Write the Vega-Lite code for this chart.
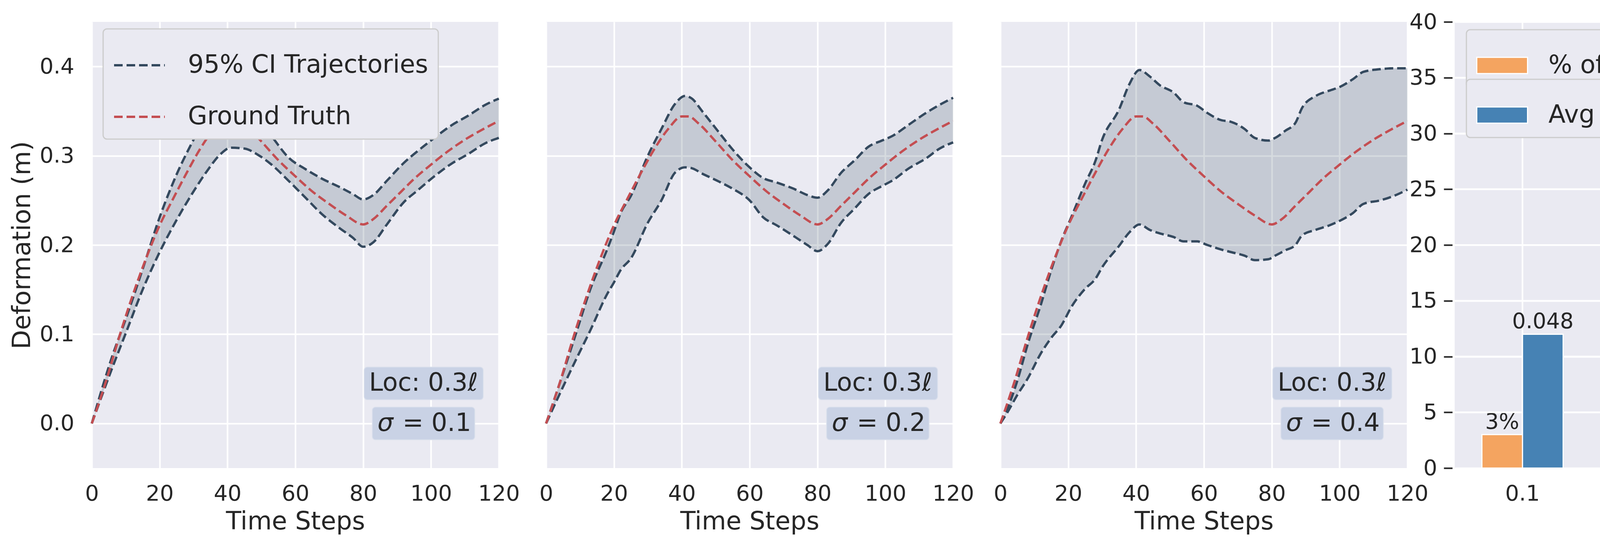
{
  "$schema": "https://vega.github.io/schema/vega-lite/v6.json",
  "description": "CI trajectories for three noise levels and CI summary bars",
  "padding": {"left": 25, "top": 28, "right": 5, "bottom": 5},
  "bounds": "flush",
  "spacing": 121,
  "datasets": {
    "ci": [
      {"noise": 0.1, "t": 0, "lo": 0, "hi": 0},
      {"noise": 0.1, "t": 6, "lo": 0.062, "hi": 0.075},
      {"noise": 0.1, "t": 10, "lo": 0.101, "hi": 0.117},
      {"noise": 0.1, "t": 15, "lo": 0.15, "hi": 0.173},
      {"noise": 0.1, "t": 20, "lo": 0.192, "hi": 0.231},
      {"noise": 0.1, "t": 25, "lo": 0.228, "hi": 0.279},
      {"noise": 0.1, "t": 30, "lo": 0.26, "hi": 0.318},
      {"noise": 0.1, "t": 34, "lo": 0.283, "hi": 0.346},
      {"noise": 0.1, "t": 38, "lo": 0.302, "hi": 0.364},
      {"noise": 0.1, "t": 41, "lo": 0.309, "hi": 0.369},
      {"noise": 0.1, "t": 45, "lo": 0.308, "hi": 0.358},
      {"noise": 0.1, "t": 49, "lo": 0.301, "hi": 0.342},
      {"noise": 0.1, "t": 53, "lo": 0.29, "hi": 0.322},
      {"noise": 0.1, "t": 58, "lo": 0.272, "hi": 0.298},
      {"noise": 0.1, "t": 63, "lo": 0.253, "hi": 0.285},
      {"noise": 0.1, "t": 68, "lo": 0.234, "hi": 0.274},
      {"noise": 0.1, "t": 73, "lo": 0.219, "hi": 0.265},
      {"noise": 0.1, "t": 77, "lo": 0.208, "hi": 0.257},
      {"noise": 0.1, "t": 80, "lo": 0.198, "hi": 0.251},
      {"noise": 0.1, "t": 83, "lo": 0.203, "hi": 0.256},
      {"noise": 0.1, "t": 87, "lo": 0.223, "hi": 0.272},
      {"noise": 0.1, "t": 92, "lo": 0.248, "hi": 0.292},
      {"noise": 0.1, "t": 96, "lo": 0.261, "hi": 0.305},
      {"noise": 0.1, "t": 101, "lo": 0.277, "hi": 0.32},
      {"noise": 0.1, "t": 106, "lo": 0.291, "hi": 0.334},
      {"noise": 0.1, "t": 111, "lo": 0.302, "hi": 0.345},
      {"noise": 0.1, "t": 116, "lo": 0.314, "hi": 0.357},
      {"noise": 0.1, "t": 120, "lo": 0.32, "hi": 0.364},
      {"noise": 0.2, "t": 0, "lo": 0, "hi": 0},
      {"noise": 0.2, "t": 4, "lo": 0.033, "hi": 0.045},
      {"noise": 0.2, "t": 9, "lo": 0.073, "hi": 0.103},
      {"noise": 0.2, "t": 13, "lo": 0.104, "hi": 0.15},
      {"noise": 0.2, "t": 18, "lo": 0.145, "hi": 0.195},
      {"noise": 0.2, "t": 20, "lo": 0.158, "hi": 0.215},
      {"noise": 0.2, "t": 22, "lo": 0.172, "hi": 0.236},
      {"noise": 0.2, "t": 25, "lo": 0.185, "hi": 0.255},
      {"noise": 0.2, "t": 30, "lo": 0.225, "hi": 0.3},
      {"noise": 0.2, "t": 34, "lo": 0.25, "hi": 0.33},
      {"noise": 0.2, "t": 38, "lo": 0.281, "hi": 0.358},
      {"noise": 0.2, "t": 41, "lo": 0.287, "hi": 0.367},
      {"noise": 0.2, "t": 43, "lo": 0.286, "hi": 0.364},
      {"noise": 0.2, "t": 46, "lo": 0.28, "hi": 0.35},
      {"noise": 0.2, "t": 51, "lo": 0.271, "hi": 0.326},
      {"noise": 0.2, "t": 55, "lo": 0.263, "hi": 0.307},
      {"noise": 0.2, "t": 60, "lo": 0.25, "hi": 0.287},
      {"noise": 0.2, "t": 64, "lo": 0.231, "hi": 0.275},
      {"noise": 0.2, "t": 68, "lo": 0.222, "hi": 0.27},
      {"noise": 0.2, "t": 73, "lo": 0.21, "hi": 0.263},
      {"noise": 0.2, "t": 77, "lo": 0.2, "hi": 0.256},
      {"noise": 0.2, "t": 80, "lo": 0.193, "hi": 0.253},
      {"noise": 0.2, "t": 83, "lo": 0.201, "hi": 0.261},
      {"noise": 0.2, "t": 87, "lo": 0.225, "hi": 0.281},
      {"noise": 0.2, "t": 91, "lo": 0.241, "hi": 0.295},
      {"noise": 0.2, "t": 95, "lo": 0.257, "hi": 0.31},
      {"noise": 0.2, "t": 99, "lo": 0.266, "hi": 0.317},
      {"noise": 0.2, "t": 102, "lo": 0.272, "hi": 0.322},
      {"noise": 0.2, "t": 107, "lo": 0.286, "hi": 0.335},
      {"noise": 0.2, "t": 112, "lo": 0.297, "hi": 0.348},
      {"noise": 0.2, "t": 116, "lo": 0.308, "hi": 0.357},
      {"noise": 0.2, "t": 120, "lo": 0.315, "hi": 0.365},
      {"noise": 0.4, "t": 0, "lo": 0, "hi": 0},
      {"noise": 0.4, "t": 2, "lo": 0.012, "hi": 0.016},
      {"noise": 0.4, "t": 5, "lo": 0.032, "hi": 0.048},
      {"noise": 0.4, "t": 8, "lo": 0.05, "hi": 0.088},
      {"noise": 0.4, "t": 12, "lo": 0.079, "hi": 0.134},
      {"noise": 0.4, "t": 15, "lo": 0.096, "hi": 0.172},
      {"noise": 0.4, "t": 18, "lo": 0.11, "hi": 0.205},
      {"noise": 0.4, "t": 21, "lo": 0.131, "hi": 0.232},
      {"noise": 0.4, "t": 25, "lo": 0.151, "hi": 0.269},
      {"noise": 0.4, "t": 28, "lo": 0.162, "hi": 0.294},
      {"noise": 0.4, "t": 30, "lo": 0.175, "hi": 0.318},
      {"noise": 0.4, "t": 35, "lo": 0.199, "hi": 0.352},
      {"noise": 0.4, "t": 38, "lo": 0.214, "hi": 0.38},
      {"noise": 0.4, "t": 41, "lo": 0.223, "hi": 0.396},
      {"noise": 0.4, "t": 44, "lo": 0.217, "hi": 0.389},
      {"noise": 0.4, "t": 47, "lo": 0.213, "hi": 0.379},
      {"noise": 0.4, "t": 51, "lo": 0.209, "hi": 0.371},
      {"noise": 0.4, "t": 54, "lo": 0.204, "hi": 0.36},
      {"noise": 0.4, "t": 58, "lo": 0.204, "hi": 0.356},
      {"noise": 0.4, "t": 61, "lo": 0.2, "hi": 0.348},
      {"noise": 0.4, "t": 65, "lo": 0.195, "hi": 0.34},
      {"noise": 0.4, "t": 68, "lo": 0.192, "hi": 0.338},
      {"noise": 0.4, "t": 72, "lo": 0.188, "hi": 0.33},
      {"noise": 0.4, "t": 75, "lo": 0.183, "hi": 0.32},
      {"noise": 0.4, "t": 79, "lo": 0.184, "hi": 0.317},
      {"noise": 0.4, "t": 81, "lo": 0.188, "hi": 0.32},
      {"noise": 0.4, "t": 84, "lo": 0.194, "hi": 0.328},
      {"noise": 0.4, "t": 87, "lo": 0.2, "hi": 0.337},
      {"noise": 0.4, "t": 89, "lo": 0.211, "hi": 0.354},
      {"noise": 0.4, "t": 93, "lo": 0.217, "hi": 0.367},
      {"noise": 0.4, "t": 97, "lo": 0.222, "hi": 0.373},
      {"noise": 0.4, "t": 100, "lo": 0.227, "hi": 0.377},
      {"noise": 0.4, "t": 104, "lo": 0.236, "hi": 0.386},
      {"noise": 0.4, "t": 107, "lo": 0.246, "hi": 0.394},
      {"noise": 0.4, "t": 112, "lo": 0.25, "hi": 0.397},
      {"noise": 0.4, "t": 116, "lo": 0.255, "hi": 0.398},
      {"noise": 0.4, "t": 120, "lo": 0.262, "hi": 0.398}
    ],
    "gt": [
      {"t": 0, "gt": 0},
      {"t": 4, "gt": 0.045},
      {"t": 8, "gt": 0.096},
      {"t": 12, "gt": 0.143},
      {"t": 16, "gt": 0.185},
      {"t": 20, "gt": 0.222},
      {"t": 24, "gt": 0.252},
      {"t": 28, "gt": 0.281},
      {"t": 32, "gt": 0.308},
      {"t": 36, "gt": 0.33},
      {"t": 40, "gt": 0.344},
      {"t": 42, "gt": 0.344},
      {"t": 45, "gt": 0.336},
      {"t": 50, "gt": 0.316},
      {"t": 55, "gt": 0.295},
      {"t": 60, "gt": 0.277},
      {"t": 65, "gt": 0.26},
      {"t": 70, "gt": 0.246},
      {"t": 75, "gt": 0.233},
      {"t": 80, "gt": 0.223},
      {"t": 83, "gt": 0.229},
      {"t": 87, "gt": 0.244},
      {"t": 91, "gt": 0.259},
      {"t": 95, "gt": 0.274},
      {"t": 100, "gt": 0.29},
      {"t": 105, "gt": 0.305},
      {"t": 110, "gt": 0.318},
      {"t": 115, "gt": 0.329},
      {"t": 120, "gt": 0.339}
    ],
    "bars": [
      {"noise": "0.1", "pct": 3, "width": 0.048},
      {"noise": "0.2", "pct": 4, "width": 0.059},
      {"noise": "0.4", "pct": 23, "width": 0.112}
    ],
    "grid": [
      {"g": 5}, {"g": 10}, {"g": 15}, {"g": 20}, {"g": 25}, {"g": 30}, {"g": 35}
    ]
  },
  "hconcat": [
    {
      "width": 1042,
      "height": 1142,
      "layer": [
        {
          "data": {"name": "ci"},
          "transform": [{"filter": "datum.noise == 0.1"}],
          "mark": {"type": "area", "color": "#34495e", "opacity": 0.2, "interpolate": "monotone"},
          "encoding": {
            "x": {"field": "t", "type": "quantitative", "title": "Time Steps", "scale": {"domain": [0, 120], "nice": false},
                  "axis": {"values": [0, 20, 40, 60, 80, 100, 120]}},
            "y": {"field": "lo", "type": "quantitative", "title": "Deformation (m)", "scale": {"domain": [-0.05, 0.45], "nice": false, "zero": false},
                  "axis": {"values": [0, 0.1, 0.2, 0.3, 0.4], "format": ".1f", "labelPadding": 45, "titlePadding": 11}},
            "y2": {"field": "hi"}
          }
        },
        {
          "data": {"name": "ci"},
          "transform": [{"filter": "datum.noise == 0.1"}],
          "mark": {"type": "line", "strokeDash": [22, 10], "strokeWidth": 6, "interpolate": "monotone"},
          "encoding": {
            "x": {"field": "t", "type": "quantitative", "title": "Time Steps"},
            "y": {"field": "hi", "type": "quantitative", "title": "Deformation (m)"},
            "color": {"datum": "95% CI Trajectories",
                      "scale": {"domain": ["95% CI Trajectories", "Ground Truth"], "range": ["#34495e", "#c44e52"]},
                      "legend": {"orient": "none", "legendX": 29, "legendY": 18, "title": null,
                                 "symbolType": "stroke", "symbolSize": 16900, "symbolStrokeWidth": 6, "symbolDash": [22, 10],
                                 "labelFontSize": 64, "labelOffset": 56, "labelColor": "#262626", "labelLimit": 2000,
                                 "padding": 25, "rowPadding": 32, "fillColor": "#EAEAF2", "strokeColor": "#cccccc", "cornerRadius": 10,
                                 "encode": {"legend": {"update": {"strokeWidth": {"value": 3}}}}}}
          }
        },
        {
          "data": {"name": "ci"},
          "transform": [{"filter": "datum.noise == 0.1"}],
          "mark": {"type": "line", "strokeDash": [22, 10], "strokeWidth": 6, "interpolate": "monotone"},
          "encoding": {
            "x": {"field": "t", "type": "quantitative", "title": "Time Steps"},
            "y": {"field": "lo", "type": "quantitative", "title": "Deformation (m)"},
            "color": {"datum": "95% CI Trajectories"}
          }
        },
        {
          "data": {"name": "gt"},
          "mark": {"type": "line", "strokeDash": [22, 10], "strokeWidth": 6, "interpolate": "monotone"},
          "encoding": {
            "x": {"field": "t", "type": "quantitative", "title": "Time Steps"},
            "y": {"field": "gt", "type": "quantitative", "title": "Deformation (m)"},
            "color": {"datum": "Ground Truth"}
          }
        },
        {
          "data": {"values": [{}]},
          "mark": {"type": "rect", "fill": "#C9D2E5", "stroke": "#D9DFEC", "strokeWidth": 2, "cornerRadius": 8},
          "encoding": {
            "x": {"datum": 80.3, "type": "quantitative", "title": "Time Steps"}, "x2": {"datum": 115.4},
            "y": {"datum": 0.0632, "type": "quantitative", "title": "Deformation (m)"}, "y2": {"datum": 0.0266}
          }
        },
        {
          "data": {"values": [{}]},
          "mark": {"type": "rect", "fill": "#C9D2E5", "stroke": "#D9DFEC", "strokeWidth": 2, "cornerRadius": 8},
          "encoding": {
            "x": {"datum": 82.7, "type": "quantitative", "title": "Time Steps"}, "x2": {"datum": 112.9},
            "y": {"datum": 0.0183, "type": "quantitative", "title": "Deformation (m)"}, "y2": {"datum": -0.0183}
          }
        },
        {
          "data": {"values": [{}]},
          "mark": {"type": "text", "fontSize": 64, "baseline": "middle", "align": "center"},
          "encoding": {
            "x": {"datum": 97.8, "type": "quantitative", "title": "Time Steps"},
            "y": {"datum": 0.0449, "type": "quantitative", "title": "Deformation (m)"},
            "text": {"value": "Loc: 0.3ℓ"}
          }
        },
        {
          "data": {"values": [{}]},
          "mark": {"type": "text", "fontSize": 64, "baseline": "middle", "align": "left", "fontStyle": "italic"},
          "encoding": {
            "x": {"datum": 84.2, "type": "quantitative", "title": "Time Steps"},
            "y": {"datum": 0.0, "type": "quantitative", "title": "Deformation (m)"},
            "text": {"value": "σ"}
          }
        },
        {
          "data": {"values": [{}]},
          "mark": {"type": "text", "fontSize": 64, "baseline": "middle", "align": "left"},
          "encoding": {
            "x": {"datum": 91.6, "type": "quantitative", "title": "Time Steps"},
            "y": {"datum": 0.0, "type": "quantitative", "title": "Deformation (m)"},
            "text": {"value": "= 0.1"}
          }
        }
      ]
    },
    {
      "width": 1042,
      "height": 1142,
      "layer": [
        {
          "data": {"name": "ci"},
          "transform": [{"filter": "datum.noise == 0.2"}],
          "mark": {"type": "area", "color": "#34495e", "opacity": 0.2, "interpolate": "monotone"},
          "encoding": {
            "x": {"field": "t", "type": "quantitative", "title": "Time Steps", "scale": {"domain": [0, 120], "nice": false},
                  "axis": {"values": [0, 20, 40, 60, 80, 100, 120]}},
            "y": {"field": "lo", "type": "quantitative", "title": null, "scale": {"domain": [-0.05, 0.45], "nice": false, "zero": false},
                  "axis": {"values": [0, 0.1, 0.2, 0.3, 0.4], "labels": false}},
            "y2": {"field": "hi"}
          }
        },
        {
          "data": {"name": "ci"},
          "transform": [{"filter": "datum.noise == 0.2"}],
          "mark": {"type": "line", "strokeDash": [22, 10], "strokeWidth": 6, "interpolate": "monotone"},
          "encoding": {
            "x": {"field": "t", "type": "quantitative", "title": "Time Steps"},
            "y": {"field": "hi", "type": "quantitative", "title": null},
            "color": {"datum": "95% CI Trajectories",
                      "scale": {"domain": ["95% CI Trajectories", "Ground Truth"], "range": ["#34495e", "#c44e52"]},
                      "legend": null}
          }
        },
        {
          "data": {"name": "ci"},
          "transform": [{"filter": "datum.noise == 0.2"}],
          "mark": {"type": "line", "strokeDash": [22, 10], "strokeWidth": 6, "interpolate": "monotone"},
          "encoding": {
            "x": {"field": "t", "type": "quantitative", "title": "Time Steps"},
            "y": {"field": "lo", "type": "quantitative", "title": null},
            "color": {"datum": "95% CI Trajectories", "legend": null}
          }
        },
        {
          "data": {"name": "gt"},
          "mark": {"type": "line", "strokeDash": [22, 10], "strokeWidth": 6, "interpolate": "monotone"},
          "encoding": {
            "x": {"field": "t", "type": "quantitative", "title": "Time Steps"},
            "y": {"field": "gt", "type": "quantitative", "title": null},
            "color": {"datum": "Ground Truth", "legend": null}
          }
        },
        {
          "data": {"values": [{}]},
          "mark": {"type": "rect", "fill": "#C9D2E5", "stroke": "#D9DFEC", "strokeWidth": 2, "cornerRadius": 8},
          "encoding": {
            "x": {"datum": 80.3, "type": "quantitative", "title": "Time Steps"}, "x2": {"datum": 115.4},
            "y": {"datum": 0.0632, "type": "quantitative", "title": null}, "y2": {"datum": 0.0266}
          }
        },
        {
          "data": {"values": [{}]},
          "mark": {"type": "rect", "fill": "#C9D2E5", "stroke": "#D9DFEC", "strokeWidth": 2, "cornerRadius": 8},
          "encoding": {
            "x": {"datum": 82.7, "type": "quantitative", "title": "Time Steps"}, "x2": {"datum": 112.9},
            "y": {"datum": 0.0183, "type": "quantitative", "title": null}, "y2": {"datum": -0.0183}
          }
        },
        {
          "data": {"values": [{}]},
          "mark": {"type": "text", "fontSize": 64, "baseline": "middle", "align": "center"},
          "encoding": {
            "x": {"datum": 97.8, "type": "quantitative", "title": "Time Steps"},
            "y": {"datum": 0.0449, "type": "quantitative", "title": null},
            "text": {"value": "Loc: 0.3ℓ"}
          }
        },
        {
          "data": {"values": [{}]},
          "mark": {"type": "text", "fontSize": 64, "baseline": "middle", "align": "left", "fontStyle": "italic"},
          "encoding": {
            "x": {"datum": 84.2, "type": "quantitative", "title": "Time Steps"},
            "y": {"datum": 0.0, "type": "quantitative", "title": null},
            "text": {"value": "σ"}
          }
        },
        {
          "data": {"values": [{}]},
          "mark": {"type": "text", "fontSize": 64, "baseline": "middle", "align": "left"},
          "encoding": {
            "x": {"datum": 91.6, "type": "quantitative", "title": "Time Steps"},
            "y": {"datum": 0.0, "type": "quantitative", "title": null},
            "text": {"value": "= 0.2"}
          }
        }
      ]
    },
    {
      "width": 1042,
      "height": 1142,
      "layer": [
        {
          "data": {"name": "ci"},
          "transform": [{"filter": "datum.noise == 0.4"}],
          "mark": {"type": "area", "color": "#34495e", "opacity": 0.2, "interpolate": "monotone"},
          "encoding": {
            "x": {"field": "t", "type": "quantitative", "title": "Time Steps", "scale": {"domain": [0, 120], "nice": false},
                  "axis": {"values": [0, 20, 40, 60, 80, 100, 120]}},
            "y": {"field": "lo", "type": "quantitative", "title": null, "scale": {"domain": [-0.05, 0.45], "nice": false, "zero": false},
                  "axis": {"values": [0, 0.1, 0.2, 0.3, 0.4], "labels": false}},
            "y2": {"field": "hi"}
          }
        },
        {
          "data": {"name": "ci"},
          "transform": [{"filter": "datum.noise == 0.4"}],
          "mark": {"type": "line", "strokeDash": [22, 10], "strokeWidth": 6, "interpolate": "monotone"},
          "encoding": {
            "x": {"field": "t", "type": "quantitative", "title": "Time Steps"},
            "y": {"field": "hi", "type": "quantitative", "title": null},
            "color": {"datum": "95% CI Trajectories",
                      "scale": {"domain": ["95% CI Trajectories", "Ground Truth"], "range": ["#34495e", "#c44e52"]},
                      "legend": null}
          }
        },
        {
          "data": {"name": "ci"},
          "transform": [{"filter": "datum.noise == 0.4"}],
          "mark": {"type": "line", "strokeDash": [22, 10], "strokeWidth": 6, "interpolate": "monotone"},
          "encoding": {
            "x": {"field": "t", "type": "quantitative", "title": "Time Steps"},
            "y": {"field": "lo", "type": "quantitative", "title": null},
            "color": {"datum": "95% CI Trajectories", "legend": null}
          }
        },
        {
          "data": {"name": "gt"},
          "mark": {"type": "line", "strokeDash": [22, 10], "strokeWidth": 6, "interpolate": "monotone"},
          "encoding": {
            "x": {"field": "t", "type": "quantitative", "title": "Time Steps"},
            "y": {"field": "gt", "type": "quantitative", "title": null},
            "color": {"datum": "Ground Truth", "legend": null}
          }
        },
        {
          "data": {"values": [{}]},
          "mark": {"type": "rect", "fill": "#C9D2E5", "stroke": "#D9DFEC", "strokeWidth": 2, "cornerRadius": 8},
          "encoding": {
            "x": {"datum": 80.3, "type": "quantitative", "title": "Time Steps"}, "x2": {"datum": 115.4},
            "y": {"datum": 0.0632, "type": "quantitative", "title": null}, "y2": {"datum": 0.0266}
          }
        },
        {
          "data": {"values": [{}]},
          "mark": {"type": "rect", "fill": "#C9D2E5", "stroke": "#D9DFEC", "strokeWidth": 2, "cornerRadius": 8},
          "encoding": {
            "x": {"datum": 82.7, "type": "quantitative", "title": "Time Steps"}, "x2": {"datum": 112.9},
            "y": {"datum": 0.0183, "type": "quantitative", "title": null}, "y2": {"datum": -0.0183}
          }
        },
        {
          "data": {"values": [{}]},
          "mark": {"type": "text", "fontSize": 64, "baseline": "middle", "align": "center"},
          "encoding": {
            "x": {"datum": 97.8, "type": "quantitative", "title": "Time Steps"},
            "y": {"datum": 0.0449, "type": "quantitative", "title": null},
            "text": {"value": "Loc: 0.3ℓ"}
          }
        },
        {
          "data": {"values": [{}]},
          "mark": {"type": "text", "fontSize": 64, "baseline": "middle", "align": "left", "fontStyle": "italic"},
          "encoding": {
            "x": {"datum": 84.2, "type": "quantitative", "title": "Time Steps"},
            "y": {"datum": 0.0, "type": "quantitative", "title": null},
            "text": {"value": "σ"}
          }
        },
        {
          "data": {"values": [{}]},
          "mark": {"type": "text", "fontSize": 64, "baseline": "middle", "align": "left"},
          "encoding": {
            "x": {"datum": 91.6, "type": "quantitative", "title": "Time Steps"},
            "y": {"datum": 0.0, "type": "quantitative", "title": null},
            "text": {"value": "= 0.4"}
          }
        }
      ]
    },
    {
      "width": 1042,
      "height": 1142,
      "data": {"name": "bars"},
      "transform": [{"calculate": "datum.pct + '%'", "as": "pctLabel"}],
      "layer": [
        {
          "layer": [
            {
              "mark": {"type": "bar", "stroke": "white", "strokeWidth": 3},
              "encoding": {
                "x": {"field": "noise", "type": "nominal", "title": "Noise σ",
                      "scale": {"domain": ["0.1", "0.2", "0.4"], "paddingInner": 0, "paddingOuter": 0},
                      "axis": {"labelAngle": 0, "grid": true, "bandPosition": 0.5}},
                "xOffset": {"datum": "a", "scale": {"domain": ["a", "b"], "paddingInner": 0, "paddingOuter": 0.67}},
                "y": {"field": "pct", "type": "quantitative", "title": null, "scale": {"domain": [0, 40], "nice": false},
                      "axis": {"orient": "left", "values": [0, 5, 10, 15, 20, 25, 30, 35, 40],
                               "ticks": true, "tickSize": 22, "tickWidth": 4, "tickColor": "#262626",
                               "offset": 6, "labelPadding": 17, "grid": true}},
                "color": {"datum": "% of GT outside CI", "scale": {"range": ["#F4A460"]},
                          "legend": {"orient": "none", "legendX": 30, "legendY": 20, "title": null,
                                     "symbolType": "M-1,-0.32H1V0.32H-1Z", "symbolSize": 16900,
                                     "symbolStrokeColor": "white", "symbolStrokeWidth": 3, "symbolOpacity": 1,
                                     "labelFontSize": 64, "labelOffset": 52, "labelColor": "#262626", "labelLimit": 2000,
                                     "padding": 25, "fillColor": "#EAEAF2", "strokeColor": "#cccccc", "cornerRadius": 10,
                                     "encode": {"legend": {"update": {"strokeWidth": {"value": 3}}}}}}
              }
            },
            {
              "mark": {"type": "text", "fontSize": 55, "baseline": "bottom", "dy": -3},
              "encoding": {
                "x": {"field": "noise", "type": "nominal", "title": "Noise σ"},
                "xOffset": {"datum": "a"},
                "y": {"field": "pct", "type": "quantitative", "title": null},
                "text": {"field": "pctLabel"}
              }
            },
            {
              "data": {"name": "grid"},
              "mark": {"type": "rule", "color": "white", "strokeWidth": 4},
              "encoding": {
                "y": {"field": "g", "type": "quantitative", "title": null}
              }
            }
          ]
        },
        {
          "layer": [
            {
              "mark": {"type": "bar", "stroke": "white", "strokeWidth": 3},
              "encoding": {
                "x": {"field": "noise", "type": "nominal", "title": "Noise σ"},
                "xOffset": {"datum": "b"},
                "y": {"field": "width", "type": "quantitative", "title": null, "scale": {"domain": [0, 0.16], "nice": false},
                      "axis": {"orient": "right", "values": [0, 0.02, 0.04, 0.06, 0.08, 0.1, 0.12, 0.14, 0.16],
                               "format": ".2f", "ticks": true, "tickSize": 23, "tickWidth": 4, "tickColor": "#262626",
                               "offset": 5, "labelPadding": 15, "grid": false}},
                "color": {"datum": "Avg CI Width (m)", "scale": {"range": ["#4682B4"]},
                          "legend": {"orient": "none", "legendX": 30, "legendY": 147, "title": null,
                                     "symbolType": "M-1,-0.32H1V0.32H-1Z", "symbolSize": 16900,
                                     "symbolStrokeColor": "white", "symbolStrokeWidth": 3, "symbolOpacity": 1,
                                     "labelFontSize": 64, "labelOffset": 52, "labelColor": "#262626", "labelLimit": 2000,
                                     "padding": 25, "fillColor": "#EAEAF2", "strokeColor": "#cccccc", "cornerRadius": 10,
                                     "encode": {"legend": {"update": {"strokeWidth": {"value": 3}}}}}}
              }
            },
            {
              "mark": {"type": "text", "fontSize": 55, "baseline": "bottom", "dy": -3},
              "encoding": {
                "x": {"field": "noise", "type": "nominal", "title": "Noise σ"},
                "xOffset": {"datum": "b"},
                "y": {"field": "width", "type": "quantitative", "title": null},
                "text": {"field": "width", "format": ".3f"}
              }
            }
          ]
        }
      ],
      "resolve": {"scale": {"y": "independent", "color": "independent"}, "legend": {"color": "independent"}}
    }
  ],
  "resolve": {
    "scale": {"x": "independent", "y": "independent", "color": "independent"},
    "legend": {"color": "independent"}
  },
  "config": {
    "font": "DejaVu Sans",
    "view": {"fill": "#EAEAF2", "stroke": null},
    "axis": {
      "domain": false,
      "ticks": false,
      "grid": true,
      "gridColor": "white",
      "gridWidth": 4,
      "labelFontSize": 56,
      "labelColor": "#262626",
      "labelFlush": false,
      "labelOverlap": false,
      "labelPadding": 38,
      "titleFontSize": 64,
      "titleFontWeight": "normal",
      "titleColor": "#262626",
      "titlePadding": 12
    },
    "text": {"color": "#262626", "font": "DejaVu Sans"}
  }
}
